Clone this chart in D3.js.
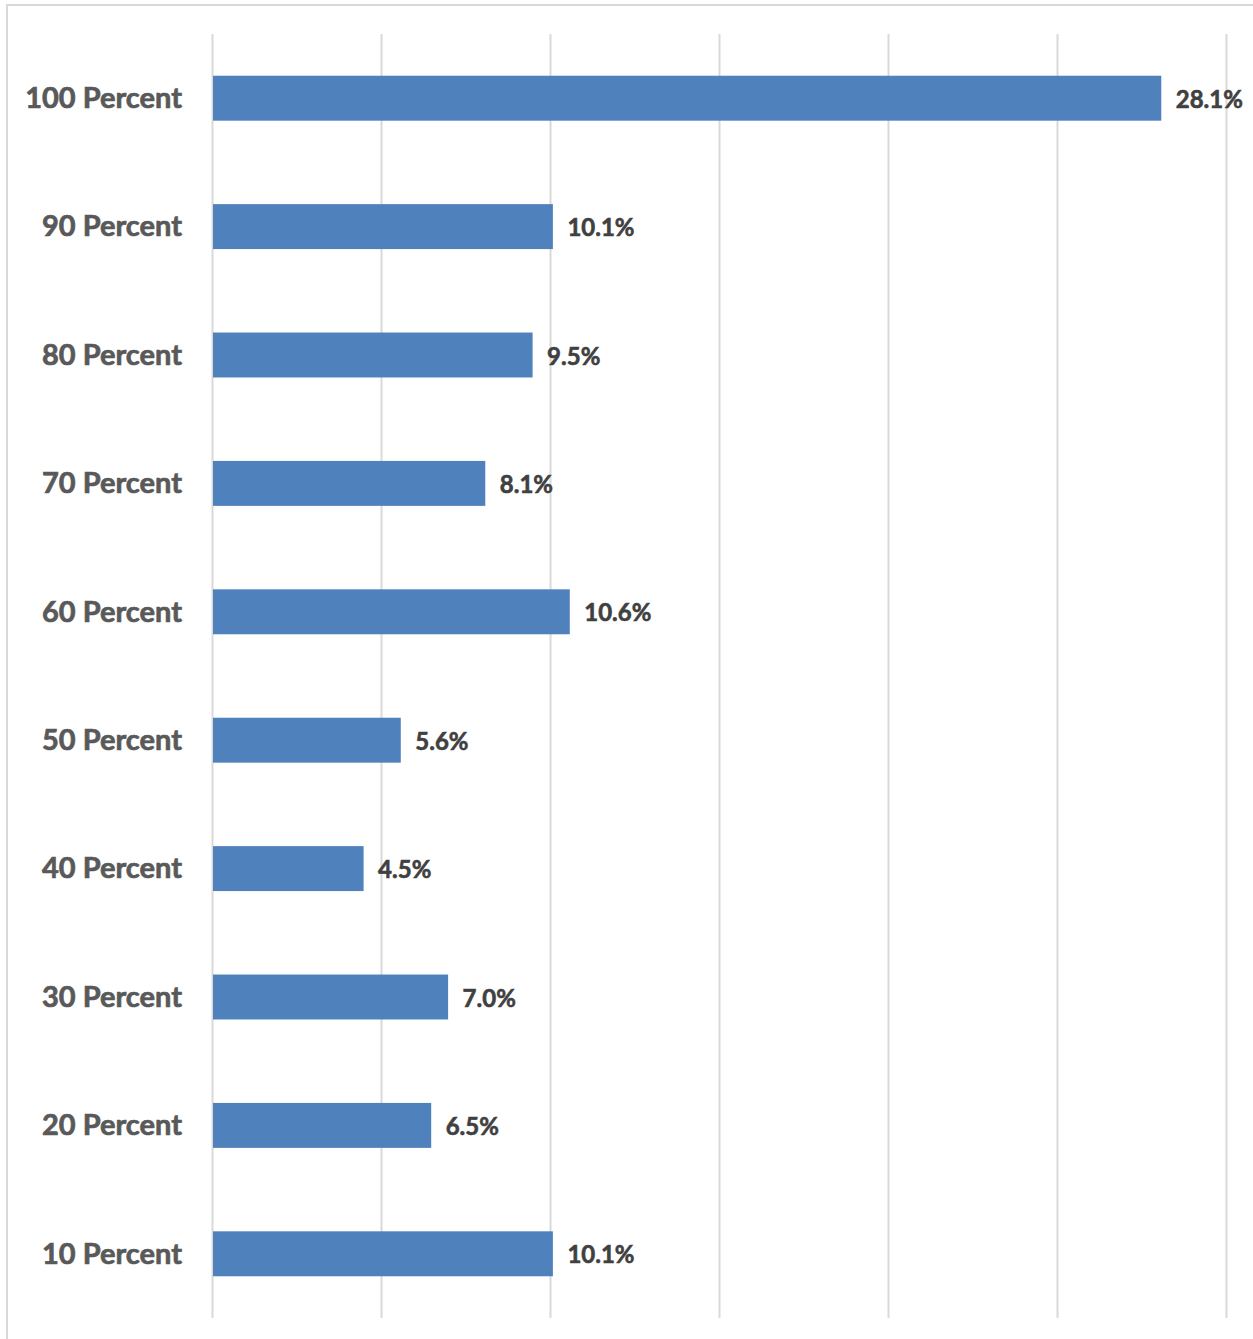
<!DOCTYPE html>
<html>
<head>
<meta charset="utf-8">
<script src="https://cdn.jsdelivr.net/npm/d3@7"></script>
<style>
  html, body { margin: 0; padding: 0; background: #fff; }
  svg { display: block; }
</style>
</head>
<body>
<div id="chart"></div>
<script>
// Share of respondents by percentage bucket
const categories = ["100 Percent", "90 Percent", "80 Percent", "70 Percent", "60 Percent",
                    "50 Percent", "40 Percent", "30 Percent", "20 Percent", "10 Percent"];
const values = [28.1, 10.1, 9.5, 8.1, 10.6, 5.6, 4.5, 7.0, 6.5, 10.1];
const xTicks = [0, 5, 10, 15, 20, 25, 30];

const W = 1253, H = 1339;
const margin = { top: 34, right: 27, bottom: 21, left: 212 };

const svg = d3.select("#chart").append("svg")
  .attr("width", W).attr("height", H);

// outer chart frame
svg.append("rect")
  .attr("x", 7).attr("y", 5)
  .attr("width", 1260).attr("height", 1360)
  .attr("fill", "none").attr("stroke", "#d9d9d9").attr("stroke-width", 2);

const x = d3.scaleLinear().domain([0, 30]).range([margin.left, W - margin.right]);
const y = d3.scaleBand().domain(categories)
  .range([margin.top, H - margin.bottom])
  .paddingInner(0.65).paddingOuter(0.325);

// vertical gridlines
svg.append("g")
  .attr("transform", `translate(0,${H - margin.bottom})`)
  .call(d3.axisBottom(x).tickValues(xTicks).tickSize(-(H - margin.top - margin.bottom)).tickFormat(""))
  .call(g => g.select(".domain").remove())
  .call(g => g.selectAll(".tick line").attr("stroke", "#d9d9d9").attr("stroke-width", 2));

// bars
svg.append("g").selectAll("rect")
  .data(categories)
  .join("rect")
  .attr("x", x(0) + 1)
  .attr("y", d => y(d))
  .attr("width", (d, i) => x(values[i]) - x(0) - 1.5)
  .attr("height", y.bandwidth())
  .attr("fill", "#4f81bd");

// category labels
svg.append("g")
  .attr("transform", `translate(${margin.left},0)`)
  .call(d3.axisLeft(y).tickSize(0).tickPadding(30))
  .call(g => g.select(".domain").remove())
  .call(g => g.selectAll("text")
    .attr("fill", "#595959")
    .attr("stroke", "#595959")
    .attr("stroke-width", 0.7)
    .attr("dy", "0.34em")
    .style("font-family", "Lato, 'Open Sans', sans-serif")
    .style("font-weight", "700")
    .style("font-size", "29px"));

// value labels
svg.append("g").selectAll("text")
  .data(categories)
  .join("text")
  .attr("x", (d, i) => x(values[i]) + 14)
  .attr("y", d => y(d) + y.bandwidth() / 2)
  .attr("dy", "0.4em")
  .attr("fill", "#404040")
  .attr("stroke", "#404040")
  .attr("stroke-width", 0.6)
  .style("font-family", "Lato, 'Open Sans', sans-serif")
  .style("font-weight", "700")
  .style("font-size", "24px")
  .text((d, i) => values[i].toFixed(1) + "%");
</script>
</body>
</html>
